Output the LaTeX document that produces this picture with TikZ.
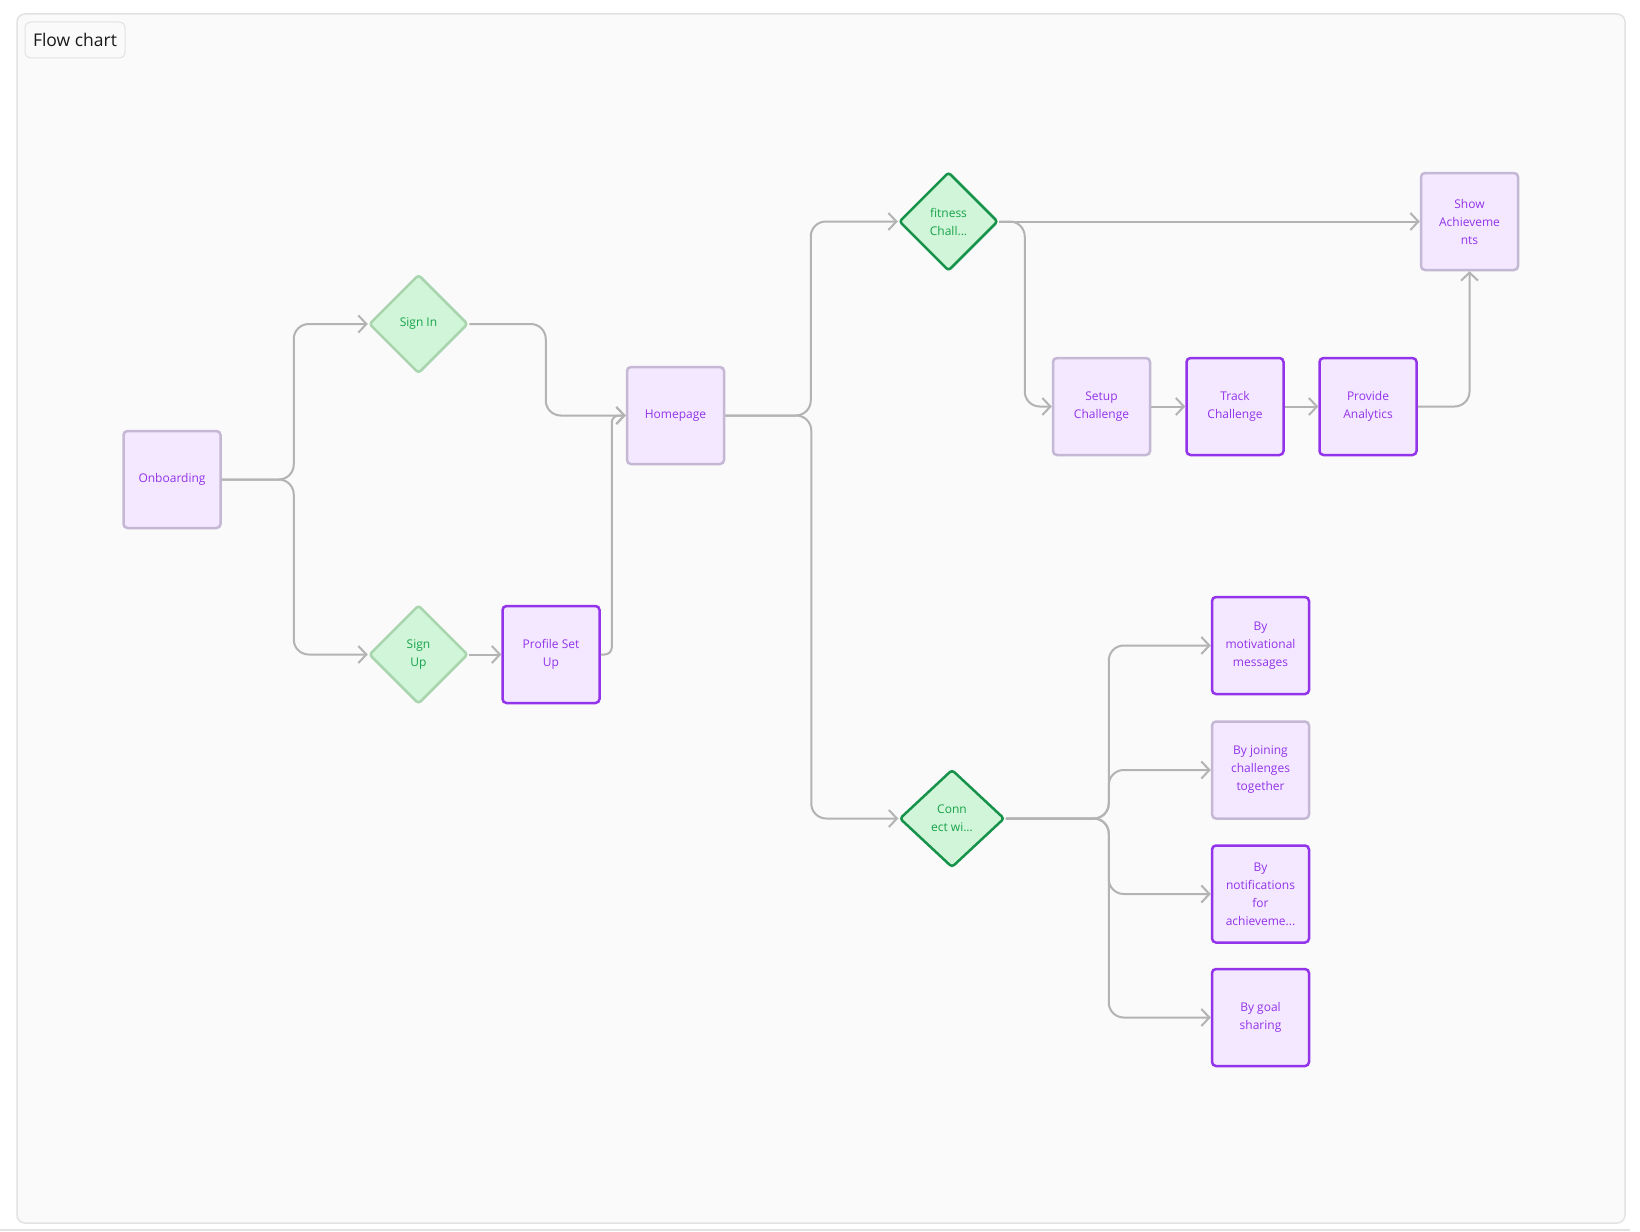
\documentclass[tikz,border=0pt]{standalone}
\usepackage{fontspec}
\setmainfont{Open Sans}
\usetikzlibrary{arrows.meta,shapes.geometric}
\definecolor{bgc}{HTML}{FAFAFA}
\definecolor{framec}{HTML}{E2E2E2}
\definecolor{boxfill}{HTML}{F3E8FF}
\definecolor{purp}{HTML}{9333EA}
\definecolor{greyb}{HTML}{C4B8D4}
\definecolor{diafill}{HTML}{D1F5D8}
\definecolor{dialight}{HTML}{A8D5AE}
\definecolor{diadark}{HTML}{16924A}
\definecolor{greent}{HTML}{16A34A}
\definecolor{connc}{HTML}{B3B3B3}
\tikzset{
  every node/.style={font=\fontsize{12}{18}\selectfont, align=center},
  pbox/.style={draw=greyb, line width=2.5pt, fill=boxfill, text=purp, rounded corners=4pt,
    minimum width=97pt, minimum height=97pt, inner sep=2pt},
  pboxa/.style={pbox, draw=purp},
  dia/.style={diamond, draw=dialight, line width=2.5pt, fill=diafill, text=greent, rounded corners=3pt,
    minimum width=99pt, minimum height=99pt, inner sep=0pt, aspect=1},
  diaa/.style={dia, draw=diadark},
  conn/.style={draw=connc, line width=2pt, rounded corners=15pt,
    -{Straight Barb[length=8pt,width=17pt,line width=2pt]}}
}
\begin{document}
\begin{tikzpicture}[x=1pt,y=-1pt]
\useasboundingbox (0,0) rectangle (1640,1231);
\fill[white] (0,0) rectangle (1640,1231);
\draw[framec, line width=1.5pt, fill=bgc, rounded corners=8pt] (17,14) rectangle (1625,1223);
\draw[framec, line width=1.5pt] (0,1230) -- (1630,1230);
\node[draw=framec, line width=1pt, fill=bgc, rounded corners=6pt, minimum width=100pt, minimum height=36pt,
  font=\fontsize{17.5}{20}\selectfont, text=black!90] (title) at (75,40) {Flow chart};

\node[pbox] (onb) at (172,479.5) {Onboarding};
\node[dia] (signin) at (418.5,324) {Sign In};
\node[dia] (signup) at (418.5,654.5) {Sign\\Up};
\node[pboxa] (prof) at (551,654.5) {Profile Set\\Up};
\node[pbox] (home) at (675.5,415.5) {Homepage};
\node[diaa] (fit) at (948.5,221.5) {fitness\\Chall...};
\node[diaa, minimum width=105pt, minimum height=98pt] (conn) at (952,818.5) {Conn\\ect wi...};
\node[pbox] (show) at (1469.5,221.5) {Show\\Achieveme\\nts};
\node[pbox] (setup) at (1101.5,406.5) {Setup\\Challenge};
\node[pboxa] (track) at (1235,406.5) {Track\\Challenge};
\node[pboxa] (prov) at (1368,406.5) {Provide\\Analytics};
\node[pboxa] (mot) at (1260.5,645.5) {By\\motivational\\messages};
\node[pbox] (join) at (1260.5,770) {By joining\\challenges\\together};
\node[pboxa] (notif) at (1260.5,894) {By\\notifications\\for\\achieveme...};
\node[pboxa] (goal) at (1260.5,1017.5) {By goal\\sharing};

\draw[conn] (onb.east) -| ([xshift=-74pt]signin.west) -- (signin.west);
\draw[conn] (onb.east) -| ([xshift=-74pt]signup.west) -- (signup.west);
\draw[conn] (signup.east) -- (prof.west);
\draw[conn] (signin.east) -| ([xshift=-80pt]home.west) -- (home.west);
\draw[conn, rounded corners=7pt] (prof.east) -| ([xshift=-14pt]home.west) -- (home.west);
\draw[conn] (home.east) -| ([xshift=-87pt]fit.west) -- (fit.west);
\draw[conn] (home.east) -| ([xshift=-87pt]conn.west) -- (conn.west);
\draw[conn] (fit.east) -- (show.west);
\draw[conn] (fit.east) -| ([xshift=-27pt]setup.west) -- (setup.west);
\draw[conn] (setup.east) -- (track.west);
\draw[conn] (track.east) -- (prov.west);
\draw[conn] (prov.east) -| (show.south);
\draw[conn] (conn.east) -| ([xshift=-102pt]mot.west) -- (mot.west);
\draw[conn] (conn.east) -| ([xshift=-102pt]join.west) -- (join.west);
\draw[conn] (conn.east) -| ([xshift=-102pt]notif.west) -- (notif.west);
\draw[conn] (conn.east) -| ([xshift=-102pt]goal.west) -- (goal.west);
\end{tikzpicture}
\end{document}
